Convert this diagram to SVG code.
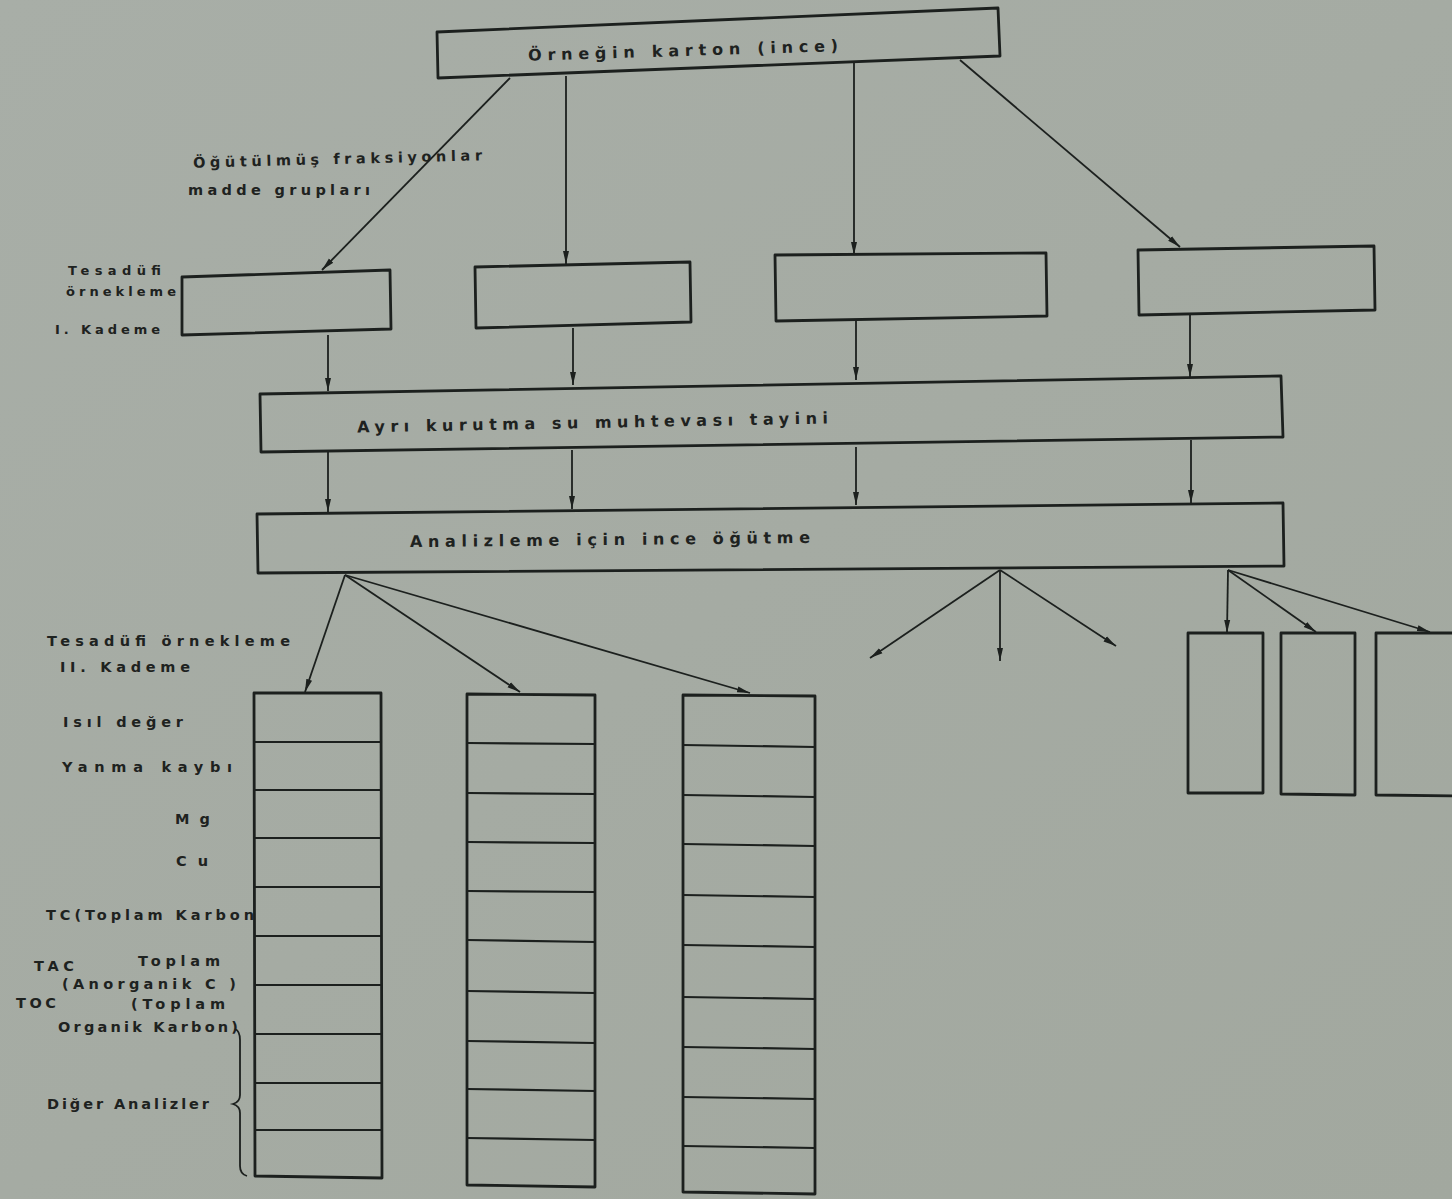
<svg xmlns="http://www.w3.org/2000/svg" width="1452" height="1199" viewBox="0 0 1452 1199">
  <style>
    .box { fill: none; stroke: #1c201e; stroke-width: 2.8; stroke-linejoin: round; }
    .row { fill: none; stroke: #1c201e; stroke-width: 2.2; }
    .arrow { fill: none; stroke: #1c201e; stroke-width: 1.8; marker-end: url(#head); }
    .brace { fill: none; stroke: #1c201e; stroke-width: 1.8; }
    text { font-family: "DejaVu Sans", "Liberation Sans", sans-serif; font-weight: bold; fill: #1e2220; }
    .big { font-size: 16px; }
    .lbl { font-size: 14.5px; }
    .sm { font-size: 13px; }
  </style>
  <defs>
    <linearGradient id="paper" x1="0" y1="0" x2="1" y2="1">
      <stop offset="0" stop-color="#a8aea7"/>
      <stop offset="1" stop-color="#a2a89f"/>
    </linearGradient>
    <marker id="head" markerUnits="userSpaceOnUse" markerWidth="14" markerHeight="8" refX="13" refY="4" orient="auto">
      <path d="M0,1 L13,4 L0,7 z" fill="#1c201e"/>
    </marker>
  </defs>

  <rect width="1452" height="1199" fill="url(#paper)"/>

  <!-- connectors -->
  <g id="connectors">
    <!-- top box to first stage boxes -->
    <line class="arrow" x1="510" y1="78" x2="322" y2="270"/>
    <line class="arrow" x1="566" y1="76" x2="566" y2="264"/>
    <line class="arrow" x1="854" y1="63" x2="854" y2="255"/>
    <line class="arrow" x1="960" y1="60" x2="1180" y2="247"/>
    <!-- first stage boxes to drying box -->
    <line class="arrow" x1="328" y1="335" x2="328" y2="391"/>
    <line class="arrow" x1="573" y1="328" x2="573" y2="385"/>
    <line class="arrow" x1="856" y1="321" x2="856" y2="380"/>
    <line class="arrow" x1="1190" y1="315" x2="1190" y2="377"/>
    <!-- drying box to grinding box -->
    <line class="arrow" x1="328" y1="452" x2="328" y2="512"/>
    <line class="arrow" x1="572" y1="450" x2="572" y2="509"/>
    <line class="arrow" x1="856" y1="447" x2="856" y2="505"/>
    <line class="arrow" x1="1191" y1="440" x2="1191" y2="503"/>
    <!-- grinding box to second stage -->
    <line class="arrow" x1="345" y1="575" x2="305" y2="692"/>
    <line class="arrow" x1="345" y1="575" x2="520" y2="692"/>
    <line class="arrow" x1="345" y1="575" x2="750" y2="693"/>
    <line class="arrow" x1="1000" y1="570" x2="870" y2="658"/>
    <line class="arrow" x1="1000" y1="570" x2="1000" y2="661"/>
    <line class="arrow" x1="1000" y1="570" x2="1116" y2="646"/>
    <line class="arrow" x1="1228" y1="570" x2="1227" y2="633"/>
    <line class="arrow" x1="1228" y1="570" x2="1316" y2="632"/>
    <line class="arrow" x1="1228" y1="570" x2="1430" y2="632"/>
  </g>

  <!-- source box -->
  <g id="node-source">
    <polygon class="box" points="437,32 998,8 1000,56 438,78"/>
    <text class="big" x="528" y="56" textLength="310" lengthAdjust="spacing" transform="rotate(-1.8 683 50)">Örneğin karton  (ince)</text>
  </g>

  <!-- fraction label -->
  <g id="label-fractions">
    <text class="lbl" x="193" y="164" textLength="289" lengthAdjust="spacing" transform="rotate(-1.5 337 158)">Öğütülmüş fraksiyonlar</text>
    <text class="lbl" x="188" y="195" textLength="182" lengthAdjust="spacing">madde grupları</text>
  </g>

  <!-- first stage sampling label -->
  <g id="label-stage1">
    <text class="sm" x="68" y="275" textLength="93" lengthAdjust="spacing">Tesadüfi</text>
    <text class="sm" x="66" y="296" textLength="110" lengthAdjust="spacing">örnekleme</text>
    <text class="sm" x="55" y="334" textLength="105" lengthAdjust="spacing">I. Kademe</text>
  </g>

  <!-- first stage boxes -->
  <g id="node-fraction-1"><polygon class="box" points="182,277 390,270 391,329 182,335"/></g>
  <g id="node-fraction-2"><polygon class="box" points="475,267 690,262 691,322 476,328"/></g>
  <g id="node-fraction-3"><polygon class="box" points="775,255 1046,253 1047,316 776,321"/></g>
  <g id="node-fraction-4"><polygon class="box" points="1138,250 1374,246 1375,310 1139,315"/></g>

  <!-- drying -->
  <g id="node-drying">
    <polygon class="box" points="260,394 1281,376 1283,437 261,452"/>
    <text class="big" x="357" y="428" textLength="471" lengthAdjust="spacing" transform="rotate(-1.1 592 422)">Ayrı kurutma su muhtevası tayini</text>
  </g>

  <!-- fine grinding -->
  <g id="node-grinding">
    <polygon class="box" points="257,514 1283,503 1284,566 258,573"/>
    <text class="big" x="410" y="545" textLength="400" lengthAdjust="spacing" transform="rotate(-0.6 610 540)">Analizleme için ince öğütme</text>
  </g>

  <!-- second stage labels -->
  <g id="label-stage2">
    <text class="lbl" x="47" y="646" textLength="243" lengthAdjust="spacing">Tesadüfi örnekleme</text>
    <text class="lbl" x="60" y="672" textLength="130" lengthAdjust="spacing">II. Kademe</text>
  </g>

  <!-- analysis labels -->
  <g id="label-analyses">
    <text class="lbl" x="63" y="727" textLength="120" lengthAdjust="spacing">Isıl değer</text>
    <text class="lbl" x="62" y="772" textLength="170" lengthAdjust="spacing">Yanma kaybı</text>
    <text class="lbl" x="175" y="824" textLength="35" lengthAdjust="spacing">Mg</text>
    <text class="lbl" x="176" y="866" textLength="32" lengthAdjust="spacing">Cu</text>
    <text class="lbl" x="46" y="920" textLength="208" lengthAdjust="spacing">TC(Toplam Karbon</text>
    <text class="lbl" x="34" y="971" textLength="40" lengthAdjust="spacing">TAC</text>
    <text class="lbl" x="138" y="966" textLength="82" lengthAdjust="spacing">Toplam</text>
    <text class="lbl" x="62" y="989" textLength="174" lengthAdjust="spacing">(Anorganik C )</text>
    <text class="lbl" x="16" y="1008" textLength="40" lengthAdjust="spacing">TOC</text>
    <text class="lbl" x="131" y="1009" textLength="94" lengthAdjust="spacing">(Toplam</text>
    <text class="lbl" x="58" y="1032" textLength="180" lengthAdjust="spacing">Organik Karbon)</text>
    <text class="lbl" x="47" y="1109" textLength="162" lengthAdjust="spacing">Diğer Analizler</text>
    <path class="brace" d="M235,1029 Q240,1031 240,1040 L240,1095 Q240,1102 233,1104 Q240,1106 240,1113 L240,1166 Q240,1174 247,1176"/>
  </g>

  <!-- sample column A -->
  <g id="node-column-a">
    <polygon class="box" points="254,693 381,693 382,1178 255,1176"/>
    <path class="row" d="M254,742 H381 M254,790 H381 M254,838 H381 M254,887 H381 M254,936 H381 M254,985 H381 M254,1034 H381 M254,1083 H381 M254,1130 H381"/>
  </g>

  <!-- sample column B -->
  <g id="node-column-b">
    <polygon class="box" points="467,694 595,695 595,1187 467,1185"/>
    <path class="row" d="M467,743 L595,744 M467,793 L595,794 M467,842 L595,843 M467,891 L595,892 M467,940 L595,942 M467,991 L595,993 M467,1041 L595,1043 M467,1089 L595,1091 M467,1138 L595,1140"/>
  </g>

  <!-- sample column C -->
  <g id="node-column-c">
    <polygon class="box" points="683,695 815,696 815,1194 683,1192"/>
    <path class="row" d="M683,745 L815,747 M683,795 L815,797 M683,844 L815,846 M683,895 L815,897 M683,945 L815,947 M683,997 L815,999 M683,1047 L815,1049 M683,1097 L815,1099 M683,1146 L815,1148"/>
  </g>

  <!-- right side sample boxes -->
  <g id="node-sample-1"><polygon class="box" points="1188,633 1263,633 1263,793 1188,793"/></g>
  <g id="node-sample-2"><polygon class="box" points="1281,633 1355,633 1355,795 1281,794"/></g>
  <g id="node-sample-3"><polygon class="box" points="1376,633 1460,633 1460,796 1376,795"/></g>
</svg>
